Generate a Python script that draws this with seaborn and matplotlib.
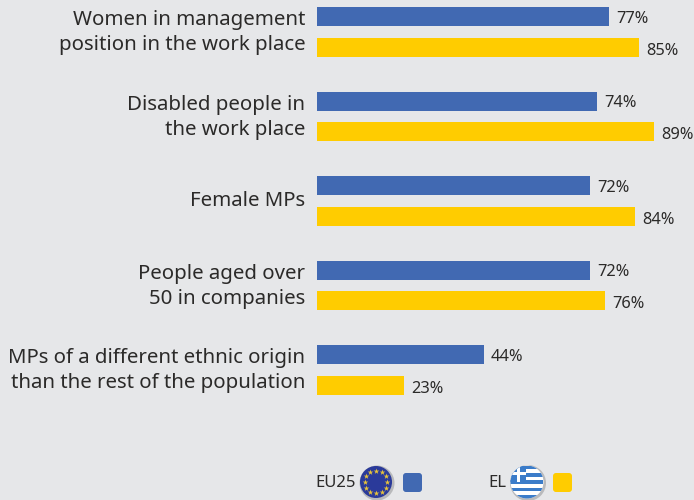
import numpy as np
import pandas as pd
import matplotlib
matplotlib.use('Agg')
import matplotlib.pyplot as plt
from matplotlib.patches import Circle, FancyBboxPatch, Rectangle
from matplotlib.transforms import offset_copy
import seaborn as sns

categories = [
    'Women in management\nposition in the work place',
    'Disabled people in\nthe work place',
    'Female MPs',
    'People aged over\n50 in companies',
    'MPs of a different ethnic origin\nthan the rest of the population',
]
eu25 = [77, 74, 72, 72, 44]
el = [85, 89, 84, 76, 23]
series_names = ['EU25', 'EL']

BG = '#E6E7E9'
BLUE = '#4169B2'
YELLOW = '#FFCC00'
TEXT = '#2B2A29'

df = pd.DataFrame({
    'group': categories * 2,
    'value': eu25 + el,
    'series': [series_names[0]] * len(categories) + [series_names[1]] * len(categories),
})

sns.set_theme(style='white')
plt.rcParams['font.family'] = ['Noto Sans', 'DejaVu Sans']

fig = plt.figure(figsize=(6.94, 5.0), dpi=100, facecolor=BG)
ax = fig.add_axes([317 / 694, 0, 377 / 694, 1], facecolor=BG)

sns.barplot(data=df, y='group', x='value', hue='series', orient='h', ax=ax,
            palette=[BLUE, YELLOW], saturation=1, width=0.722, gap=0.377,
            linewidth=0, legend=False)

# pixels -> data: 3.79 px per percent, 84.5 px between groups
ax.set_xlim(0, 377 / 3.79)
ax.set_ylim((500 - 32) / 84.5, -32 / 84.5)
ax.set_xlabel('')
ax.set_ylabel('')
ax.set_xticks([])
ax.tick_params(axis='y', length=0, pad=8.5)
for lab in ax.get_yticklabels():
    lab.set_fontsize(14.7)
    lab.set_color(TEXT)
    lab.set_horizontalalignment('right')
    lab.set_multialignment('right')
    lab.set_linespacing(1.33)
    up = 3.2 if '\n' in lab.get_text() else 2.0
    lab.set_transform(offset_copy(lab.get_transform(), fig=fig, y=up, units='points'))
sns.despine(ax=ax, left=True, bottom=True)

for cont, drop in zip(ax.containers, [1.5, 2.6]):
    for t in ax.bar_label(cont, fmt='%d%%', padding=5, fontsize=11.8, color=TEXT):
        t.xyann = (t.xyann[0], t.xyann[1] - drop)

# legend strip, drawn in pixel coordinates
leg = fig.add_axes([0, 0, 1, 1], facecolor='none')
leg.set_xlim(0, 694)
leg.set_ylim(500, 0)
leg.axis('off')


def eu_flag(cx, cy, r):
    leg.add_patch(Circle((cx + 1, cy + 1), r + 1.5, color='#B9BABC', lw=0))
    leg.add_patch(Circle((cx, cy), r, color='#2A3A9A', lw=0))
    ang = np.linspace(0, 2 * np.pi, 12, endpoint=False)
    leg.scatter(cx + r * 0.7 * np.cos(ang), cy + r * 0.7 * np.sin(ang),
                marker='*', s=18, color='#E8C33A', lw=0, zorder=3)


def greek_flag(cx, cy, r):
    leg.add_patch(Circle((cx + 1, cy + 1), r + 1.5, color='#B9BABC', lw=0))
    disc = Circle((cx, cy), r, color='white', lw=0)
    leg.add_patch(disc)
    for i in range(0, 9, 2):
        s = Rectangle((cx - r, cy - r + i * 2 * r / 9), 2 * r, 2 * r / 9, color='#3B7CC9', lw=0)
        leg.add_patch(s)
        s.set_clip_path(disc)
    box = Rectangle((cx - r, cy - r), r * 0.95, r * 1.0, color='#3B7CC9', lw=0)
    leg.add_patch(box)
    box.set_clip_path(disc)
    for c in [Rectangle((cx - r * 0.63, cy - r), r * 0.2, r, color='white', lw=0),
              Rectangle((cx - r, cy - r * 0.6), r * 0.95, r * 0.2, color='white', lw=0)]:
        leg.add_patch(c)
        c.set_clip_path(disc)


def swatch(x, y, color):
    leg.add_patch(FancyBboxPatch((x + 3, y + 3), 13, 13, boxstyle='round,pad=3,rounding_size=3',
                                 color=color, lw=0))


leg.text(315, 483, series_names[0], fontsize=12, color=TEXT, va='center', ha='left')
eu_flag(376, 482, 16)
swatch(403, 473, BLUE)
leg.text(488, 483, series_names[1], fontsize=12, color=TEXT, va='center', ha='left')
greek_flag(527, 482, 16.5)
swatch(553, 473, YELLOW)

fig.savefig('out.png', dpi=100, facecolor=BG)
